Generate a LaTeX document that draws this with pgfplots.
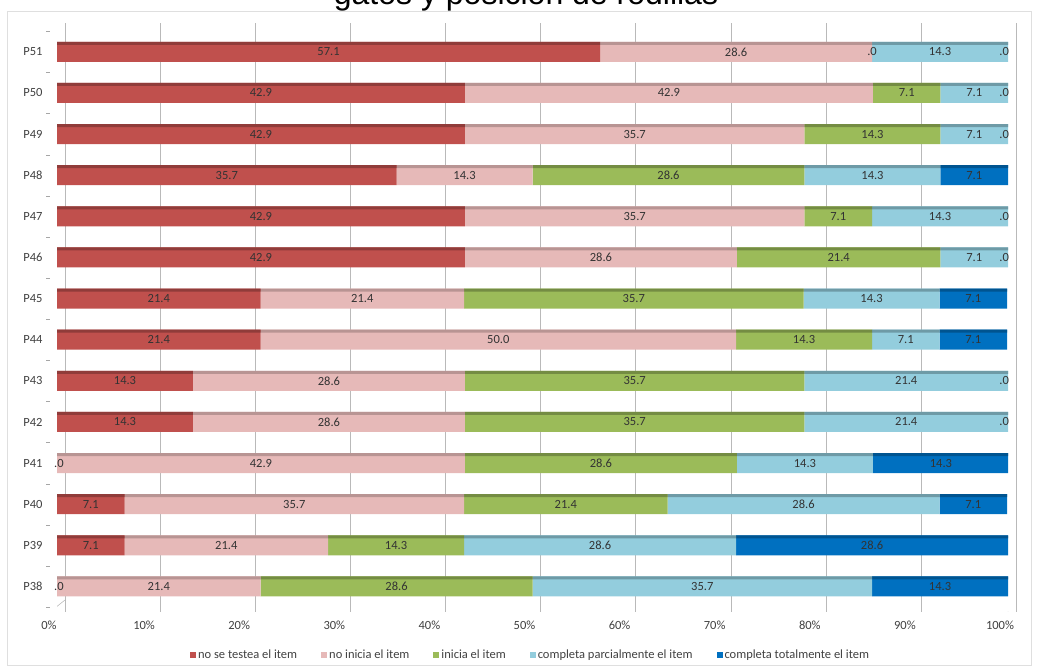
\documentclass[border=0pt]{standalone}
\usepackage{pgfplots}
\pgfplotsset{compat=1.18}
\usepackage{pgfplotstable}
\usepackage{fontspec}
\setmainfont{Carlito}
\newfontfamily\titlefont{Liberation Sans}
\definecolor{cA}{HTML}{C0504D}
\definecolor{cB}{HTML}{E6B9B8}
\definecolor{cC}{HTML}{9BBB59}
\definecolor{cD}{HTML}{93CDDD}
\definecolor{cE}{HTML}{0070C0}

\pgfplotstableread{
y A B C D E
0 0 21.4 28.6 35.7 14.3
1 7.1 21.4 14.3 28.6 28.6
2 7.1 35.7 21.4 28.6 7.1
3 0 42.9 28.6 14.3 14.3
4 14.3 28.6 35.7 21.4 0
5 14.3 28.6 35.7 21.4 0
6 21.4 50.0 14.3 7.1 7.1
7 21.4 21.4 35.7 14.3 7.1
8 42.9 28.6 21.4 7.1 0
9 42.9 35.7 7.1 14.3 0
10 35.7 14.3 28.6 14.3 7.1
11 42.9 35.7 14.3 7.1 0
12 42.9 42.9 7.1 7.1 0
13 57.1 28.6 0 14.3 0
}\data

\pgfplotstableread{
x y lab
28.55 13 57.1
71.4 13 28.6
85.7 13 .0
92.85 13 14.3
99.6 13 .0
21.45 12 42.9
64.35 12 42.9
89.35 12 7.1
96.45 12 7.1
99.6 12 .0
21.45 11 42.9
60.75 11 35.7
85.75 11 14.3
96.45 11 7.1
99.6 11 .0
17.85 10 35.7
42.85 10 14.3
64.3 10 28.6
85.75 10 14.3
96.45 10 7.1
21.45 9 42.9
60.75 9 35.7
82.15 9 7.1
92.85 9 14.3
99.6 9 .0
21.45 8 42.9
57.2 8 28.6
82.2 8 21.4
96.45 8 7.1
99.6 8 .0
10.7 7 21.4
32.1 7 21.4
60.65 7 35.7
85.65 7 14.3
96.35 7 7.1
10.7 6 21.4
46.4 6 50.0
78.55 6 14.3
89.25 6 7.1
96.35 6 7.1
7.15 5 14.3
28.6 5 28.6
60.75 5 35.7
89.3 5 21.4
99.6 5 .0
7.15 4 14.3
28.6 4 28.6
60.75 4 35.7
89.3 4 21.4
99.6 4 .0
0.2 3 .0
21.45 3 42.9
57.2 3 28.6
78.65 3 14.3
92.95 3 14.3
3.55 2 7.1
24.95 2 35.7
53.5 2 21.4
78.5 2 28.6
96.35 2 7.1
3.55 1 7.1
17.8 1 21.4
35.65 1 14.3
57.1 1 28.6
85.7 1 28.6
0.2 0 .0
10.7 0 21.4
35.7 0 28.6
67.85 0 35.7
92.85 0 14.3
}\labels

\pgfplotsset{
  geom/.style={at={(57pt,56pt)}, anchor=south west, scale only axis,
    width=951pt, height=589pt, xmin=0, xmax=100, ymin=-0.62, ymax=13.7},
}

\begin{document}
\begin{tikzpicture}
\useasboundingbox (0pt,0pt) rectangle (1038pt,668pt);
\draw[gray!25] (7pt,3pt) rectangle (1031pt,657pt);
\node[anchor=base, font=\titlefont\fontsize{32}{32}\selectfont, text=black] at (526pt,663pt) {gatos y posición de rodillas};

\begin{axis}[geom,
  xbar stacked, bar width=20pt,
  axis line style={draw=none},
  xtick={0,10,...,100},
  xticklabels={0\%,10\%,20\%,30\%,40\%,50\%,60\%,70\%,80\%,90\%,100\%},
  ytick={0,...,13},
  yticklabels={P38,P39,P40,P41,P42,P43,P44,P45,P46,P47,P48,P49,P50,P51},
  minor ytick={-0.5,0.5,...,13.5},
  tick align=outside, xtick pos=bottom, ytick pos=left,
  major tick length=0pt, minor tick length=4pt,
  every minor tick/.append style={gray!70, xshift=-7pt},
  x tick label style={font=\fontsize{12.5}{13}\selectfont, text=black!75, xshift=-8pt, yshift=-5pt},
  y tick label style={font=\fontsize{12.5}{13}\selectfont, text=black!75, xshift=-11pt},
  xmajorgrids, major grid style={gray!55, xshift=8pt},
  legend style={at={(0.498,-0.073)}, anchor=center, draw=none, fill=none,
    legend columns=-1, font=\fontsize{12.5}{13}\selectfont, text=black!75,
    /tikz/every even column/.append style={column sep=22pt}},
  legend image code/.code={\fill[#1] (0pt,-3pt) rectangle (6pt,3pt);},
]
\addplot[fill=cA, draw=none] table[x=A,y=y]{\data};
\addplot[fill=cB, draw=none] table[x=B,y=y]{\data};
\addplot[fill=cC, draw=none] table[x=C,y=y]{\data};
\addplot[fill=cD, draw=none] table[x=D,y=y]{\data};
\addplot[fill=cE, draw=none] table[x=E,y=y]{\data};
\legend{no se testea el item, no inicia el item, inicia el item, completa parcialmente el item, completa totalmente el item}
\draw[gray!70] ([xshift=-7pt]rel axis cs:0,0) -- ([xshift=-7pt]rel axis cs:0,1);
\draw[gray!70] ([xshift=-7pt]rel axis cs:0,0) -- (rel axis cs:1,0);
\draw[gray!70] ([xshift=-7pt]rel axis cs:0,0) -- ([xshift=8pt,yshift=12pt]rel axis cs:0,0);
\draw[gray!70] (rel axis cs:1,0) -- ([xshift=8pt,yshift=12pt]rel axis cs:1,0) -- ([xshift=8pt]rel axis cs:1,1);
\end{axis}

\begin{axis}[geom, hide axis, xbar stacked, bar width=3pt, bar shift=8.5pt]
\addplot[fill=cA!75!black, draw=none] table[x=A,y=y]{\data};
\addplot[fill=cB!80!black, draw=none] table[x=B,y=y]{\data};
\addplot[fill=cC!75!black, draw=none] table[x=C,y=y]{\data};
\addplot[fill=cD!75!black, draw=none] table[x=D,y=y]{\data};
\addplot[fill=cE!75!black, draw=none] table[x=E,y=y]{\data};
\end{axis}

\begin{axis}[geom, hide axis, clip=false]
\addplot[only marks, mark=none, nodes near coords, point meta=explicit symbolic,
  nodes near coords style={anchor=center, font=\fontsize{12.5}{13}\selectfont, text=black!80}]
  table[x=x,y=y,meta=lab]{\labels};
\end{axis}
\end{tikzpicture}
\end{document}
